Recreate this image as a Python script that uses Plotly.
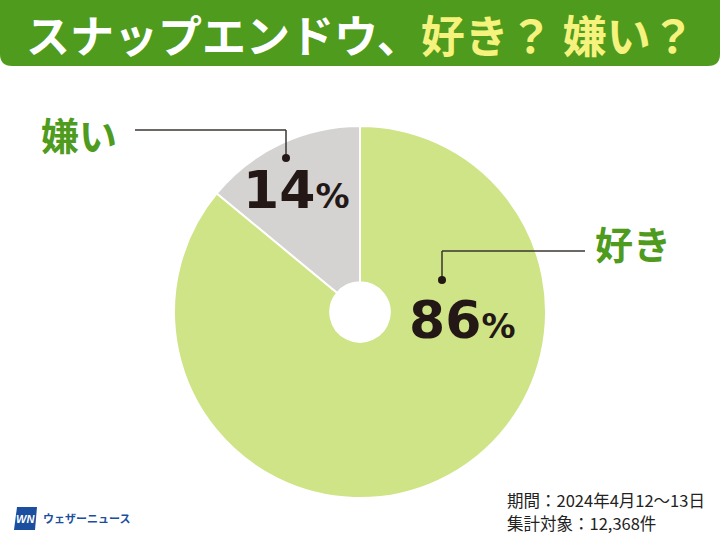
import plotly.graph_objects as go

# ---- data ----
labels = ["嫌い", "好き"]
values = [14, 86]
pct_text = ["14", "86"]
title_white = "スナップエンドウ、"
title_yellow = "好き？ 嫌い？"
footer_lines = ["期間：2024年4月12～13日", "集計対象：12,368件"]
brand = "ウェザーニュース"

W, H = 720, 540
def px(x): return x / W
def py(y): return 1 - y / H

JP = "Noto Sans CJK JP"
GREEN_DARK = "#4e9b1d"
YELLOW = "#f6f27e"
SLICE_COLORS = ["#d4d3d2", "#cfe487"]

fig = go.Figure()
fig.add_trace(go.Pie(
    labels=labels, values=values, sort=False, direction="clockwise",
    rotation=-50.4, hole=0.16, textinfo="none", hoverinfo="skip",
    marker=dict(colors=SLICE_COLORS, line=dict(color="white", width=2)),
    domain=dict(x=[px(174), px(546)], y=[py(498), py(126)]),
    showlegend=False,
))

shapes = []
# title bar with rounded bottom corners
r = 12
shapes.append(dict(type="path", xref="paper", yref="paper",
    path=f"M {px(0)},{py(-5)} L {px(720)},{py(-5)} L {px(720)},{py(66-r)} "
         f"Q {px(720)},{py(66)} {px(720-r)},{py(66)} L {px(r)},{py(66)} "
         f"Q {px(0)},{py(66)} {px(0)},{py(66-r)} Z",
    fillcolor=GREEN_DARK, line=dict(width=0), layer="below"))

# leader lines
line_col = "#3a3632"
for (x0, y0, x1, y1) in [(135, 130, 286, 130), (286, 130, 286, 157),
                         (442, 251, 585, 251), (442, 251, 442, 280)]:
    shapes.append(dict(type="line", xref="paper", yref="paper",
                       x0=px(x0), y0=py(y0), x1=px(x1), y1=py(y1),
                       line=dict(color=line_col, width=1.5)))
for (cx, cy) in [(286, 158), (442, 280)]:
    rr = 4
    shapes.append(dict(type="circle", xref="paper", yref="paper",
                       x0=px(cx - rr), x1=px(cx + rr), y0=py(cy - rr), y1=py(cy + rr),
                       fillcolor="#231815", line=dict(width=0)))

# logo box
shapes.append(dict(type="path", xref="paper", yref="paper",
    path=f"M {px(17)},{py(507)} L {px(37)},{py(507)} L {px(35)},{py(530)} L {px(14)},{py(530)} Z",
    fillcolor="#1b4e9e", line=dict(width=0)))

annotations = []
annotations.append(dict(
    x=px(360), y=py(34), xref="paper", yref="paper", showarrow=False,
    text=f"<b>{title_white}<span style='color:{YELLOW}'>{title_yellow}</span></b>",
    font=dict(family=JP, size=44, color="white"), xanchor="center", yanchor="middle"))

annotations.append(dict(x=px(79), y=py(134), xref="paper", yref="paper", showarrow=False,
    text=f"<b>{labels[0]}</b>", font=dict(family=JP, size=38, color=GREEN_DARK),
    xanchor="center", yanchor="middle"))
annotations.append(dict(x=px(633), y=py(243), xref="paper", yref="paper", showarrow=False,
    text=f"<b>{labels[1]}</b>", font=dict(family=JP, size=38, color=GREEN_DARK),
    xanchor="center", yanchor="middle"))

NUM = "DejaVu Sans"
for (cx, cy, t) in [(296, 190, pct_text[0]), (462, 320, pct_text[1])]:
    annotations.append(dict(x=px(cx), y=py(cy), xref="paper", yref="paper", showarrow=False,
        text=f"<b>{t}<span style='font-size:34px'>%</span></b>",
        font=dict(family=NUM, size=52, color="#231815"),
        xanchor="center", yanchor="middle"))

for i, ln in enumerate(footer_lines):
    annotations.append(dict(x=px(505), y=py(500 + 23 * i), xref="paper", yref="paper",
        showarrow=False, text=ln, font=dict(family=JP, size=16.5, color="#222222"),
        xanchor="left", yanchor="middle"))

annotations.append(dict(x=px(25.5), y=py(519), xref="paper", yref="paper", showarrow=False,
    text="<b><i>WN</i></b>", font=dict(family="Liberation Sans", size=11, color="white"),
    xanchor="center", yanchor="middle"))
annotations.append(dict(x=px(41), y=py(518), xref="paper", yref="paper", showarrow=False,
    text=f"<b>{brand}</b>", font=dict(family=JP, size=11, color="#1b4e9e"),
    xanchor="left", yanchor="middle"))

fig.update_layout(
    width=W, height=H, margin=dict(l=0, r=0, t=0, b=0),
    paper_bgcolor="white", plot_bgcolor="white",
    shapes=shapes, annotations=annotations,
)
fig.write_html("out.html")
